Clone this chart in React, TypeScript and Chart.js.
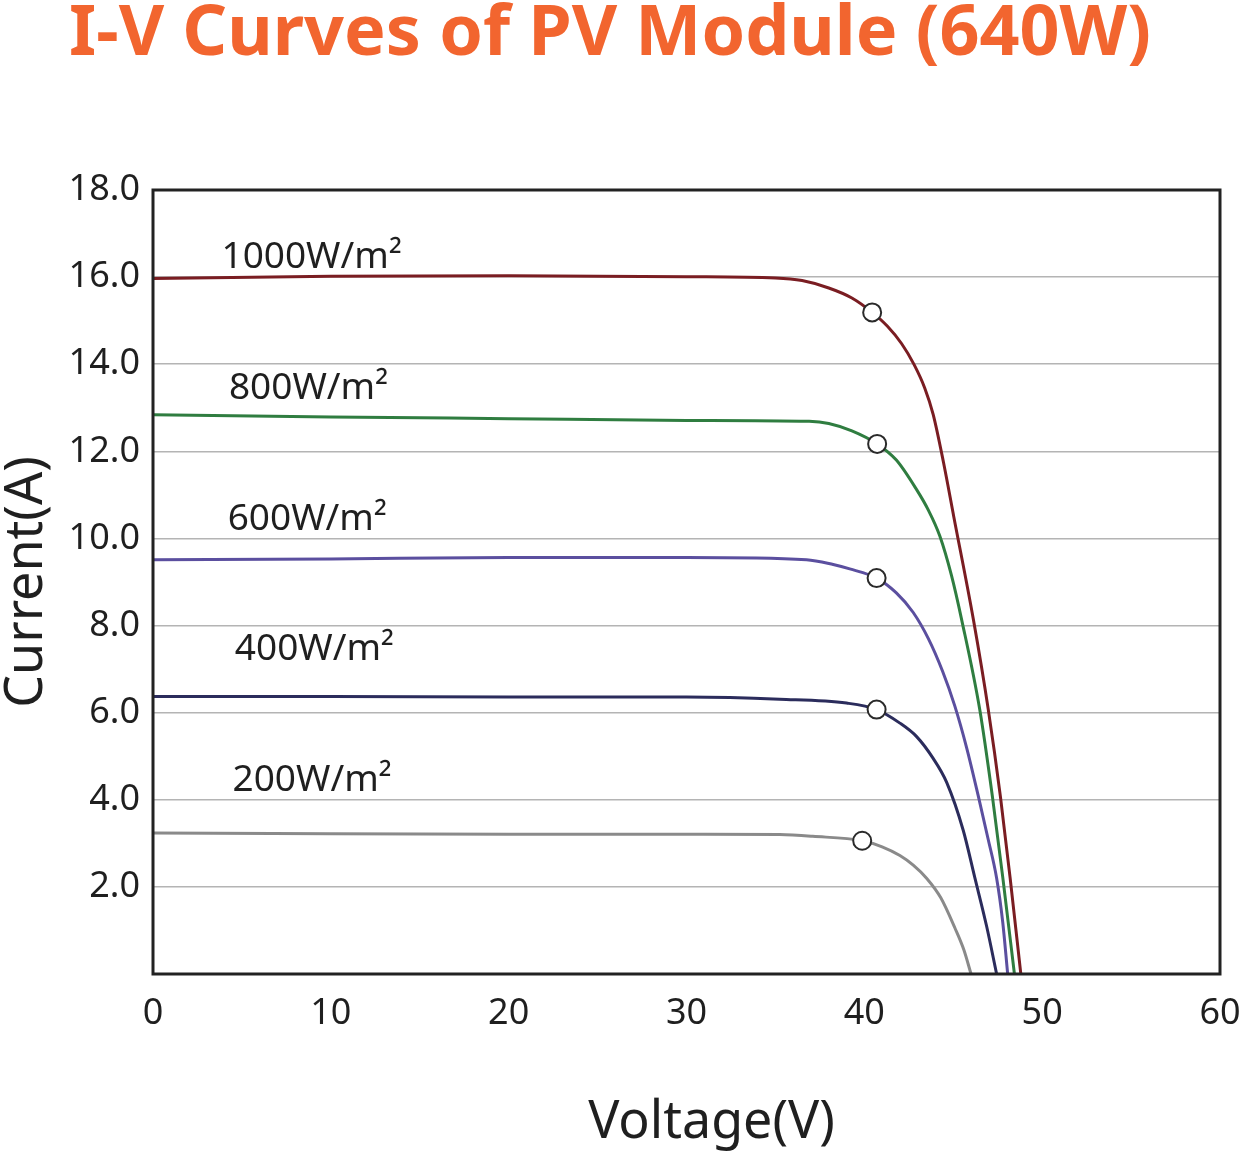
import { useEffect, useRef } from 'react';
import { Chart, registerables } from 'chart.js';

Chart.register(...registerables);

const FONT = '"Noto Sans", "DejaVu Sans", sans-serif';
const TEXT_COLOR = '#1f1f1f';

const chartTitle = 'I-V Curves of PV Module (640W)';
const xTitle = 'Voltage(V)';
const yTitle = 'Current(A)';

const irradianceLabels = ['1000W/m²', '800W/m²', '600W/m²', '400W/m²', '200W/m²'];
const curveColors = ['#7a1d22', '#2f7d40', '#5b4f9f', '#2b2c5c', '#8a8a8a'];

// I-V points, one pair of arrays per irradiance
const voltage1000 = [0, 10, 20, 30, 35, 36.5, 38.0, 39.3, 40.44, 41.3, 42.1, 42.8, 43.4, 43.87, 44.45, 45.03, 46.14, 46.97, 47.66, 48.2, 48.8];
const current1000 = [15.97, 16.02, 16.03, 16.01, 15.98, 15.92, 15.75, 15.52, 15.19, 14.87, 14.47, 13.99, 13.45, 12.85, 11.75, 10.5, 8.12, 6.07, 4.05, 2.2, 0];

const voltage800 = [0, 10, 20, 30, 36.9, 38.0, 39.3, 40.72, 41.8, 42.94, 43.6, 44.25, 44.9, 45.48, 46.49, 47.21, 47.79, 48.44];
const current800 = [12.84, 12.79, 12.75, 12.71, 12.69, 12.64, 12.47, 12.17, 11.8, 11.12, 10.65, 10.05, 9.15, 8.12, 6.07, 4.05, 2.2, 0];

const voltage600 = [0, 10, 20, 30, 36.75, 38.25, 39.18, 40.69, 41.8, 42.75, 43.6, 44.4, 45.09, 45.75, 46.4, 46.96, 47.44, 47.78, 48.06];
const current600 = [9.51, 9.53, 9.56, 9.56, 9.51, 9.4, 9.3, 9.09, 8.75, 8.3, 7.7, 6.95, 6.15, 5.2, 4.1, 3.1, 2.2, 1.2, 0];

const voltage400 = [0, 10, 20, 30, 35.24, 39.0, 40.69, 42.0, 42.94, 43.87, 44.63, 45.56, 46.22, 46.88, 47.44];
const current400 = [6.37, 6.37, 6.36, 6.36, 6.31, 6.22, 6.07, 5.76, 5.45, 4.95, 4.4, 3.3, 2.2, 1.09, 0];

const voltage200 = [0, 10, 20, 30, 35.24, 37.1, 39.88, 41.0, 42.0, 42.75, 43.5, 44.3, 45.1, 45.6, 46.0];
const current200 = [3.24, 3.22, 3.21, 3.21, 3.2, 3.16, 3.06, 2.92, 2.72, 2.5, 2.2, 1.75, 1.05, 0.55, 0];

const curveVoltages = [voltage1000, voltage800, voltage600, voltage400, voltage200];
const curveCurrents = [current1000, current800, current600, current400, current200];

// maximum power points (open circles)
const mppVoltage = [40.44, 40.72, 40.69, 40.69, 39.88];
const mppCurrent = [15.19, 12.17, 9.09, 6.07, 3.06];

// where each irradiance label sits (left edge, baseline), in axis units
const labelVoltage = [3.85, 4.27, 4.2, 4.6, 4.47];
const labelCurrent = [16.2, 13.2, 10.2, 7.2, 4.2];

const xTicks = [0, 10, 20, 30, 40, 50, 60];
const yTicks = [2, 4, 6, 8, 10, 12, 14, 16, 18];

const framePlugin = {
    id: 'frame',
    afterDatasetsDraw(chart: Chart) {
        const { ctx, chartArea } = chart;
        ctx.save();
        ctx.strokeStyle = '#222222';
        ctx.lineWidth = 3;
        ctx.strokeRect(chartArea.left, chartArea.top, chartArea.right - chartArea.left, chartArea.bottom - chartArea.top);
        ctx.restore();
    },
};

const textPlugin = {
    id: 'extraText',
    afterDraw(chart: Chart) {
        const { ctx, scales, chartArea } = chart;
        ctx.save();
        ctx.fillStyle = TEXT_COLOR;

        // irradiance labels above each curve
        ctx.font = `37px ${FONT}`;
        ctx.textAlign = 'left';
        ctx.textBaseline = 'alphabetic';
        irradianceLabels.forEach((label, i) => {
            const x = scales.x.getPixelForValue(labelVoltage[i]);
            const y = scales.y.getPixelForValue(labelCurrent[i]);
            ctx.fillText(label, x, y);
        });

        // x axis title sits a little right of the plot centre in the original
        ctx.font = `52px ${FONT}`;
        ctx.textAlign = 'center';
        const cx = (chartArea.left + chartArea.right) / 2 + 25;
        ctx.fillText(xTitle, cx, chartArea.bottom + 164);
        ctx.restore();
    },
};

const IVChart = () => {
    const chartRef = useRef<HTMLCanvasElement | null>(null);
    const chartInstance = useRef<Chart | null>(null);

    useEffect(() => {
        document.body.style.margin = '0';
        if (!chartRef.current) return;
        const ctx = chartRef.current.getContext('2d');
        if (!ctx) return;

        if (chartInstance.current) {
            chartInstance.current.destroy();
        }

        const curveSets = irradianceLabels.map((label, i) => ({
            type: 'line' as const,
            label,
            data: curveVoltages[i].map((v, j) => ({ x: v, y: curveCurrents[i][j] })),
            borderColor: curveColors[i],
            borderWidth: 3,
            pointRadius: 0,
            fill: false,
            cubicInterpolationMode: 'monotone' as const,
            order: 1,
        }));

        const mppSet = {
            type: 'scatter' as const,
            label: 'MPP',
            data: mppVoltage.map((v, i) => ({ x: v, y: mppCurrent[i] })),
            pointRadius: 9,
            pointBackgroundColor: '#ffffff',
            pointBorderColor: '#2a2a2a',
            pointBorderWidth: 2,
            showLine: false,
            order: 0,
        };

        chartInstance.current = new Chart(ctx, {
            type: 'line',
            data: { datasets: [...curveSets, mppSet] as any },
            options: {
                responsive: false,
                maintainAspectRatio: false,
                devicePixelRatio: 1,
                animation: false,
                layout: { padding: { top: 0, left: 0, bottom: 0, right: 19 } },
                plugins: {
                    legend: { display: false },
                    tooltip: { enabled: false },
                    title: {
                        display: true,
                        text: chartTitle,
                        color: '#f2652f',
                        font: { family: FONT, size: 70, weight: 'bold', lineHeight: 1 },
                        padding: { top: 0, bottom: 120 },
                    },
                },
                scales: {
                    x: {
                        type: 'linear',
                        min: 0,
                        max: 60,
                        afterBuildTicks: (scale) => {
                            scale.ticks = xTicks.map((value) => ({ value }));
                        },
                        afterFit: (scale) => {
                            scale.height = 179;
                            scale.paddingRight = 0;
                        },
                        grid: { display: false, drawTicks: false },
                        border: { display: false },
                        ticks: {
                            padding: 18,
                            color: TEXT_COLOR,
                            font: { family: FONT, size: 36 },
                            maxRotation: 0,
                            callback: (value) => String(value),
                        },
                    },
                    y: {
                        type: 'linear',
                        min: 0,
                        max: 18,
                        afterBuildTicks: (scale) => {
                            scale.ticks = yTicks.map((value) => ({ value }));
                        },
                        afterFit: (scale) => {
                            scale.width = 153;
                        },
                        grid: { color: '#b4b4b4', lineWidth: 1.5, drawTicks: false },
                        border: { display: false },
                        ticks: {
                            padding: 13,
                            color: TEXT_COLOR,
                            font: { family: FONT, size: 36 },
                            callback: (value) => Number(value).toFixed(1),
                        },
                        title: {
                            display: true,
                            text: yTitle,
                            color: TEXT_COLOR,
                            font: { family: FONT, size: 52, lineHeight: 1 },
                            padding: { top: 1, bottom: 0 },
                        },
                    },
                },
            },
            plugins: [framePlugin, textPlugin],
        });

        return () => {
            if (chartInstance.current) {
                chartInstance.current.destroy();
                chartInstance.current = null;
            }
        };
    }, []);

    return (
        <div style={{ width: 1239, height: 1153 }}>
            <canvas ref={chartRef} width={1239} height={1153} />
        </div>
    );
};

export default function App() {
    return <IVChart />;
}
